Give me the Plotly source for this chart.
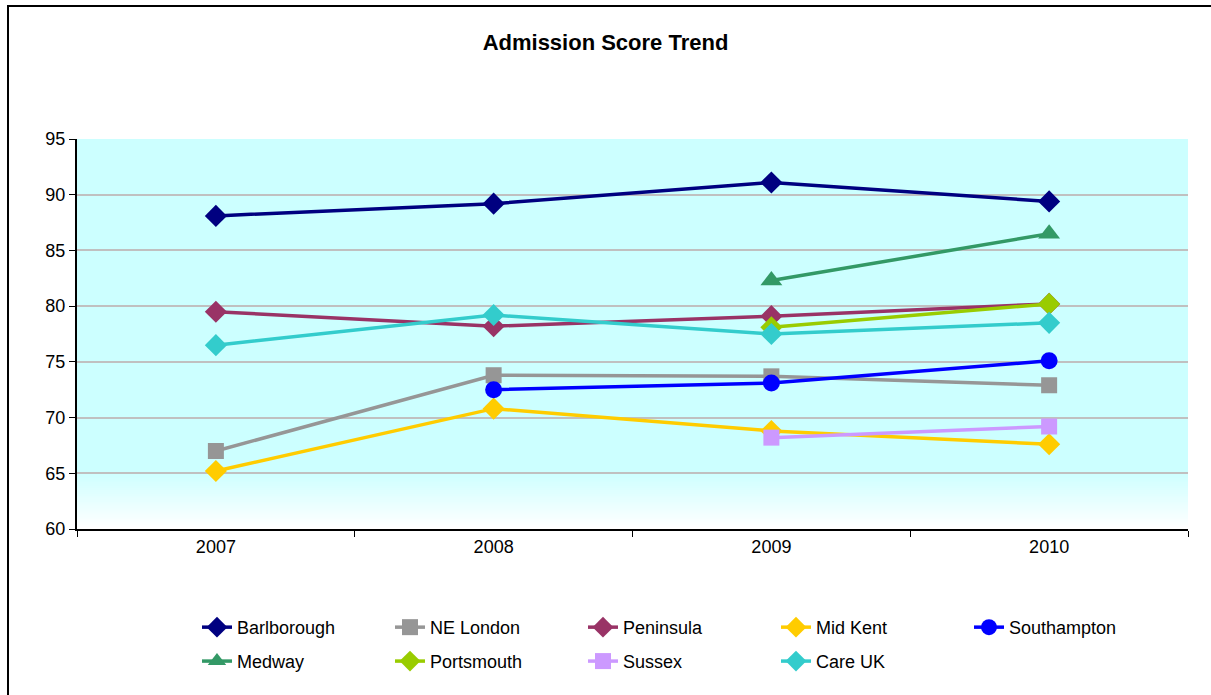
import plotly.graph_objects as go

# ---------------------------------------------------------------------------
# Dati
# ---------------------------------------------------------------------------
years = ["2007", "2008", "2009", "2010"]

barlborough = [88.1, 89.2, 91.1, 89.4]
ne_london = [67.0, 73.8, 73.7, 72.9]
peninsula = [79.5, 78.2, 79.1, 80.2]
mid_kent = [65.2, 70.8, 68.8, 67.6]
southampton = [None, 72.5, 73.1, 75.1]
medway = [None, None, 82.3, 86.5]
portsmouth = [None, None, 78.1, 80.2]
sussex = [None, None, 68.2, 69.2]
care_uk = [76.5, 79.2, 77.5, 78.5]

series = [
    ("Barlborough", barlborough, "#000080", "diamond", 17, "legend"),
    ("NE London", ne_london, "#969696", "square", 16, "legend"),
    ("Peninsula", peninsula, "#993366", "diamond", 17, "legend"),
    ("Mid Kent", mid_kent, "#FFCC00", "diamond", 17, "legend"),
    ("Southampton", southampton, "#0000FF", "circle", 17, "legend"),
    ("Medway", medway, "#339966", "triangle-up", 19, "legend2"),
    ("Portsmouth", portsmouth, "#99CC00", "diamond", 17, "legend2"),
    ("Sussex", sussex, "#CC99FF", "square", 16, "legend2"),
    ("Care UK", care_uk, "#33CCCC", "diamond", 17, "legend2"),
]

FONT = "Liberation Sans, Arial, sans-serif"

fig = go.Figure()
for name, vals, color, symbol, size, leg in series:
    fig.add_trace(
        go.Scatter(
            x=years,
            y=vals,
            mode="lines+markers",
            name=name,
            legend=leg,
            line=dict(color=color, width=3.5),
            marker=dict(symbol=symbol, size=size, color=color),
            connectgaps=False,
        )
    )

# sfondo: ciano con sfumatura verso il bianco in basso
shapes = [dict(type="rect", xref="paper", yref="paper", x0=0, x1=1, y0=0, y1=1,
               fillcolor="#CCFFFF", line_width=0, layer="below")]
n_strips = 30
g1 = 0.15
for i in range(n_strips):
    t = i / (n_strips - 1)  # 0 in basso -> 1 in alto
    r = int(round(255 + (204 - 255) * t))
    shapes.append(dict(type="rect", xref="paper", yref="paper", x0=0, x1=1,
                       y0=g1 * i / n_strips, y1=g1 * (i + 1) / n_strips + 0.002,
                       fillcolor=f"rgb({r},255,255)", line_width=0, layer="below"))

# cornice esterna del grafico
shapes.append(dict(type="rect", xref="paper", yref="paper",
                   x0=-0.0621, x1=1.05, y0=-0.5, y1=1.341,
                   line=dict(color="black", width=2), fillcolor="rgba(0,0,0,0)"))

legend_common = dict(
    orientation="h",
    xanchor="left", yanchor="top",
    entrywidth=148, entrywidthmode="pixels",
    font=dict(size=18, family=FONT),
    bgcolor="rgba(0,0,0,0)",
)

fig.update_layout(
    width=1211,
    height=695,
    margin=dict(l=77, r=23, t=139, b=166),
    paper_bgcolor="white",
    plot_bgcolor="rgba(0,0,0,0)",
    font=dict(family=FONT, size=18, color="black"),
    title=dict(text="<b>Admission Score Trend</b>", x=0.5, xanchor="center",
               y=1 - 42 / 695, yanchor="middle", font=dict(size=22, family=FONT)),
    shapes=shapes,
    showlegend=True,
    legend=dict(x=0.108, y=-0.205, **legend_common),
    legend2=dict(x=0.108, y=-0.292, **legend_common),
)

fig.update_xaxes(
    type="category",
    range=[-0.5, 3.5],
    showline=True, linecolor="black", linewidth=2,
    ticks="outside", tickson="boundaries", ticklen=6, tickcolor="black",
    showgrid=False, zeroline=False,
    tickfont=dict(size=18, family=FONT),
)
fig.update_yaxes(
    range=[60, 95],
    dtick=5,
    showline=True, linecolor="black", linewidth=2,
    ticks="outside", ticklen=6, tickcolor="black",
    showgrid=True, gridcolor="#C0C0C0", gridwidth=1.5,
    zeroline=False,
    tickfont=dict(size=18, family=FONT),
)

fig.write_html("out.html", config={"displayModeBar": False},
               post_script="document.body.style.margin='0';")
